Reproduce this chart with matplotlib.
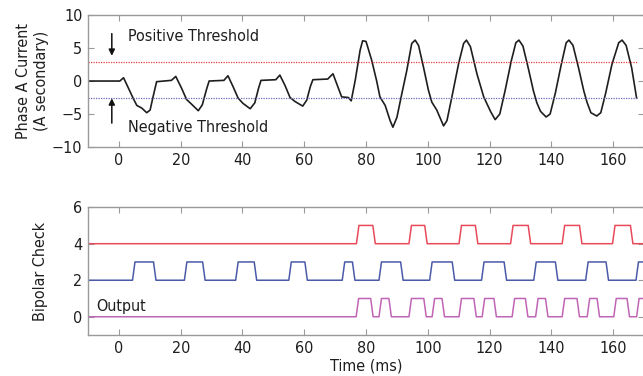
import numpy as np
import matplotlib
matplotlib.use("Agg")
import matplotlib.pyplot as plt

plt.rcParams['font.family'] = ['DejaVu Sans']
plt.rcParams['font.stretch'] = 'condensed'

# phase A current (ms, A secondary)
t_cur = [-10, 0.3, 1.5, 3.1, 4.7, 5.8, 7.4, 9.0, 10.1, 11.1, 12.2,
         17.0, 18.4, 20.3, 21.9, 23.5, 25.7, 27.0, 28.4, 29.2,
         34.0, 35.3, 37.0, 38.6, 40.2, 42.5, 44.0, 45.2, 46.0,
         50.8, 52.1, 53.8, 55.4, 57.0, 59.5, 60.8, 62.0, 62.8,
         67.6, 69.3, 70.5, 72.1, 74.3, 75.2, 76.5, 78.1, 78.9, 80.0, 81.8,
         83.4, 84.5, 86.2, 87.8, 88.7, 90.0, 91.6, 93.2, 94.8, 95.9, 97.0,
         98.6, 100.2, 101.3, 102.9, 105.1, 106.2, 107.8, 110.0, 111.6, 112.5,
         113.8, 115.9, 118.1, 120.3, 121.8, 123.3, 125.0, 127.0, 128.5, 129.5,
         130.8, 132.5, 134.2, 135.3, 136.5, 138.3, 139.6, 141.3, 143.2, 144.8,
         145.7, 147.0, 148.8, 150.5, 151.6, 152.8, 154.7, 156.0, 157.6, 159.6,
         161.8, 162.9, 164.2, 166.0, 167.6]
i_cur = [0, 0, 0.5, -1.1, -2.7, -3.7, -4.1, -4.8, -4.4, -2.3, -0.1,
         0.1, 0.7, -1.1, -2.8, -3.5, -4.5, -3.6, -1.2, 0.0,
         0.1, 0.8, -0.9, -2.6, -3.4, -4.2, -3.3, -1.1, 0.1,
         0.2, 0.9, -0.7, -2.5, -3.1, -3.8, -2.9, -0.8, 0.2,
         0.3, 1.1, -0.4, -2.4, -2.5, -3.0, 0.1, 4.7, 6.1, 6.0, 3.2,
         0.1, -2.4, -3.7, -6.0, -7.0, -5.5, -1.9, 1.6, 5.7, 6.2, 5.4,
         2.1, -1.4, -3.2, -4.4, -6.8, -6.0, -2.4, 2.7, 5.7, 6.2,
         5.2, 1.1, -2.4, -4.6, -5.85, -5.0, -1.5, 3.0, 5.8, 6.2,
         5.3, 2.0, -1.5, -3.3, -4.6, -5.45, -5.0, -1.8, 2.5, 5.8,
         6.2, 5.4, 2.0, -1.5, -3.3, -4.8, -5.3, -4.8, -1.8, 2.5,
         5.8, 6.2, 5.4, 2.0, -2.6]

pos_thr = 2.9
neg_thr = -2.6

# bipolar check pulses: (rise, fall) in ms
pos_pulses = [(77.3, 82.6), (94.3, 99.4), (110.5, 115.8), (127.2, 132.9),
              (143.9, 149.5), (160.2, 166.0)]
neg_pulses = [(4.8, 11.6), (21.6, 27.5), (38.2, 44.2), (55.4, 60.6),
              (72.7, 76.0), (84.6, 91.6), (101.0, 108.3), (117.8, 125.1),
              (134.7, 141.7), (151.5, 158.1), (167.8, 175.0)]
out_pulses = [(77.2, 81.9), (84.6, 87.8), (94.3, 99.1), (101.8, 105.0),
              (110.5, 115.3), (118.0, 121.8), (127.7, 132.0), (135.3, 138.5),
              (143.9, 148.7), (152.0, 155.2), (160.6, 164.9), (168.0, 175.0)]
pos_base, neg_base, out_base = 4, 2, 0


def pulse_line(pulses, base, t0=-10, t1=172, ramp=0.8):
    xs, ys = [t0], [base]
    for r, f in pulses:
        xs += [r - ramp / 2, r + ramp / 2, f - ramp / 2, f + ramp / 2]
        ys += [base, base + 1, base + 1, base]
    xs.append(t1)
    ys.append(base)
    return xs, ys


spine_c = '#9a9a9a'
txt_c = '#1e1e1e'
fs = 11.5

fig = plt.figure(figsize=(6.43, 3.76), dpi=100)
ax1 = fig.add_axes([0.1369, 0.609, 0.8647, 0.351])
ax2 = fig.add_axes([0.1369, 0.109, 0.8647, 0.340])

for ax in (ax1, ax2):
    ax.set_xlim(-10, 170)
    ax.set_xticks(range(0, 161, 20))
    ax.tick_params(direction='in', length=4, width=0.8, color=spine_c,
                   labelsize=fs, labelcolor=txt_c, top=True, right=True, pad=4)
    for s in ax.spines.values():
        s.set_color(spine_c)
        s.set_linewidth(1.0)

# top: current and thresholds
ax1.plot(t_cur, i_cur, color='#1e1e1e', lw=1.2)
ax1.plot([-10, 167.6], [pos_thr, pos_thr], color='#e04040', lw=0.9, ls=(0, (1, 1)))
ax1.plot([-10, 167.6], [neg_thr, neg_thr], color='#6a6ab8', lw=0.9, ls=(0, (1, 1)))
ax1.set_ylim(-10, 10)
ax1.set_yticks([-10, -5, 0, 5, 10])
ax1.set_ylabel('Phase A Current\n(A secondary)', fontsize=fs, color=txt_c)
ax1.yaxis.set_label_coords(-0.071, 0.5)
ax1.text(3, 6.8, 'Positive Threshold', fontsize=fs, color=txt_c, va='center')
ax1.text(3, -7.0, 'Negative Threshold', fontsize=fs, color=txt_c, va='center')
ax1.annotate('', xy=(-2.3, 3.4), xytext=(-2.3, 7.6),
             arrowprops=dict(arrowstyle='-|>', color='#111111', lw=1.1, mutation_scale=9))
ax1.annotate('', xy=(-2.3, -2.2), xytext=(-2.3, -6.8),
             arrowprops=dict(arrowstyle='-|>', color='#111111', lw=1.1, mutation_scale=9))

# bottom: bipolar check logic
xs, ys = pulse_line(pos_pulses, pos_base)
ax2.plot(xs, ys, color='#e84a5a', lw=1.1)
xs, ys = pulse_line(neg_pulses, neg_base)
ax2.plot(xs, ys, color='#4a5aa8', lw=1.1)
xs, ys = pulse_line(out_pulses, out_base)
ax2.plot(xs, ys, color='#c065b5', lw=1.1)
ax2.set_ylim(-1, 6)
ax2.set_yticks([0, 2, 4, 6])
ax2.set_ylabel('Bipolar Check', fontsize=fs, color=txt_c)
ax2.yaxis.set_label_coords(-0.072, 0.5)
ax2.set_xlabel('Time (ms)', fontsize=fs, color=txt_c, labelpad=2)
ax2.text(-7.3, 0.55, 'Output', fontsize=fs, color=txt_c, va='center')

fig.savefig('out.png', dpi=100)
